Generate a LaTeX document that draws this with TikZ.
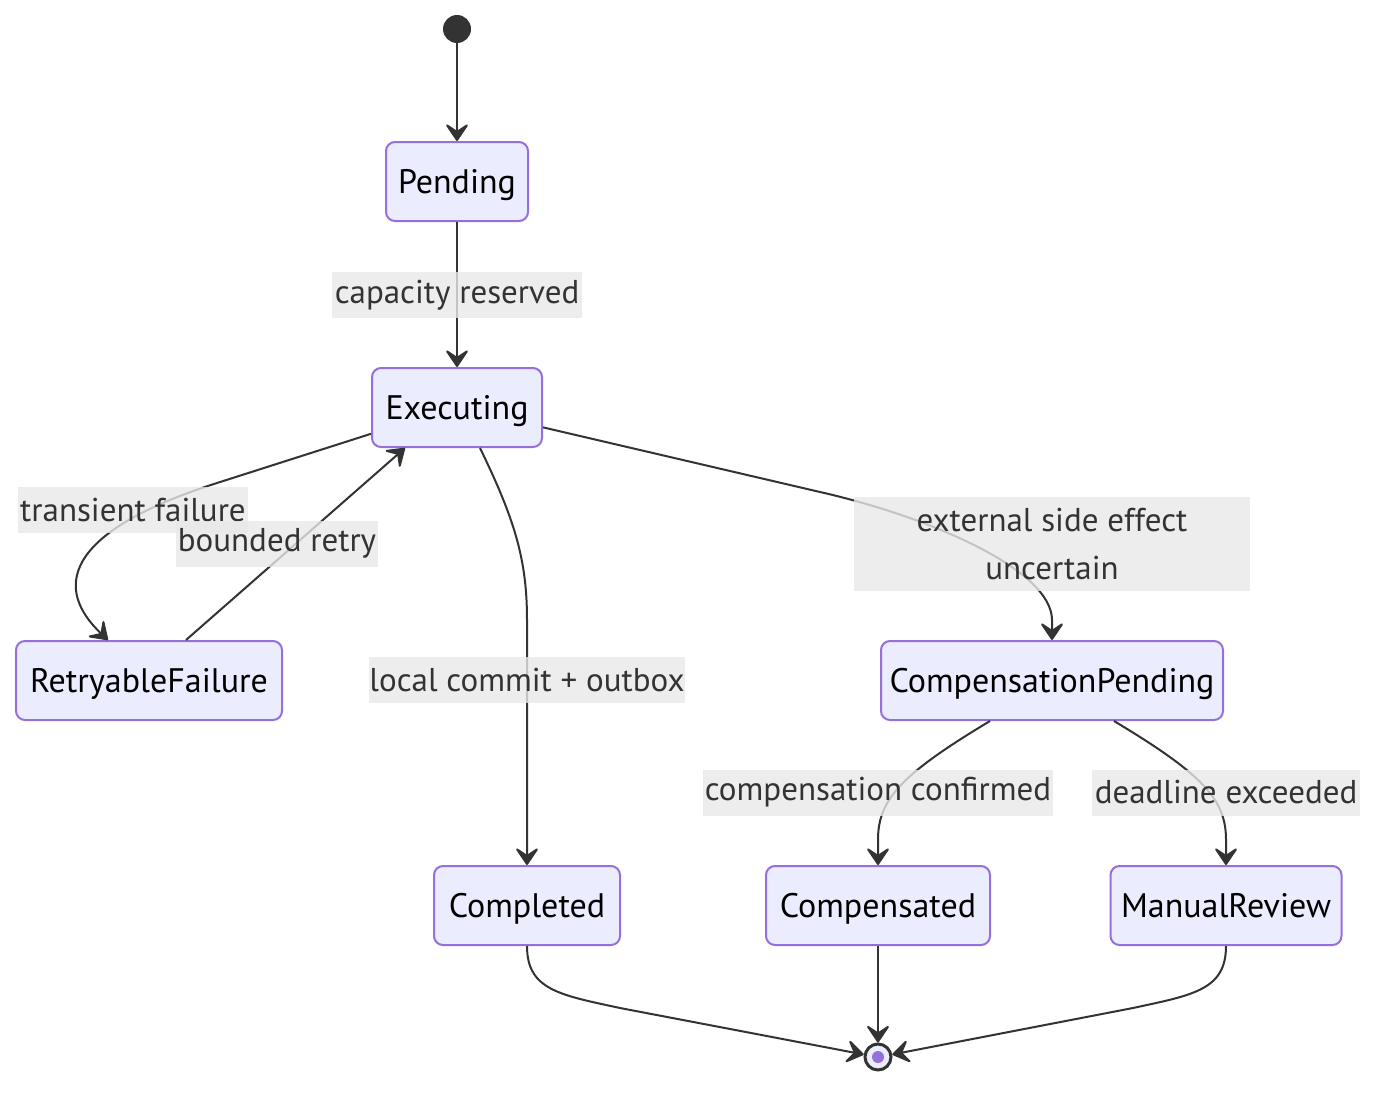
\documentclass[tikz,border=0pt]{standalone}
\usepackage{fontspec}
\setmainfont{PT Sans}
\usetikzlibrary{arrows.meta,calc}
\definecolor{nodefill}{HTML}{ECECFF}
\definecolor{nodeline}{HTML}{9370DB}
\definecolor{edgec}{HTML}{333333}
\definecolor{lblbg}{HTML}{E8E8E8}
\begin{document}
\begin{tikzpicture}[x=1pt,y=-1pt,
 st/.style={draw=nodeline, fill=nodefill, line width=2pt, rounded corners=9pt, minimum height=79pt, inner sep=0pt, font=\fontsize{34}{40}\selectfont, text=black, text height=24pt, text depth=0pt},
 tr/.style={draw=edgec, line width=2pt, -{Stealth[length=20pt,width=27pt,inset=9pt,round]}},
 lbl/.style={fill=lblbg, fill opacity=0.8, text opacity=1, text=edgec, inner sep=0pt, minimum height=46pt, font=\fontsize{33}{40}\selectfont, align=center}
]
\useasboundingbox (0,0) rectangle (1392,1100);
\node[circle, fill=edgec, minimum size=28pt, inner sep=0pt] (start) at (457,29) {};
\node[st, minimum width=142pt] (pe) at (457,181.5) {Pending};
\node[st, minimum width=170pt] (ex) at (457,407.5) {Executing};
\node[st, minimum width=266pt] (rf) at (149,680.5) {RetryableFailure};
\node[st, minimum width=342pt] (cp) at (1052,680.5) {CompensationPending};
\node[st, minimum width=186pt] (cd) at (527,905.5) {Completed};
\node[st, minimum width=224pt] (cs) at (878,905.5) {Compensated};
\node[st, minimum width=231pt] (mr) at (1226,905.5) {ManualReview};
\node[circle, draw=edgec, line width=3pt, fill=nodefill, minimum size=26pt, inner sep=0pt] (end) at (878,1057) {};
\node[circle, fill=nodeline, minimum size=12pt, inner sep=0pt] (endin) at (end) {};

\draw[tr] (start) -- (pe);
\draw[tr] (pe) -- (ex);
\draw[tr] (ex.197) -- (217,483) .. controls (60,533) and (55,590) .. ([xshift=-41pt]rf.north);
\draw[tr] ([xshift=37pt]rf.north) -- ([xshift=-52pt]ex.south);
\draw[tr] ([xshift=23pt]ex.south) .. controls (515,520) and (527,560) .. (527,620) -- (cd.north);
\draw[tr] (ex.-13.6) -- (820,492) .. controls (930,517) and (1052,570) .. (1052,620) -- (cp.north);
\draw[tr] ([xshift=-62pt]cp.south) .. controls (900,775) and (878,800) .. (878,840) -- (cs.north);
\draw[tr] ([xshift=62pt]cp.south) .. controls (1204,775) and (1226,800) .. (1226,840) -- (mr.north);
\draw[tr] (cd.south) .. controls (527,990) and (560,995) .. (620,1008) -- (end.170);
\draw[tr] (cs) -- (end);
\draw[tr] (mr.south) .. controls (1226,990) and (1193,995) .. (1133,1008) -- (end.10);

\node[lbl, minimum width=250pt] (l1) at (457,295) {capacity reserved};
\node[lbl, minimum width=230pt] (l2) at (133,510) {transient failure};
\node[lbl, minimum width=202pt] (l3) at (277,543.5) {bounded retry};
\node[lbl, minimum width=316pt] (l4) at (527,680) {local commit + outbox};
\node[lbl, minimum width=396pt, minimum height=94pt, font=\fontsize{33}{48}\selectfont] (l5) at (1052,544) {external side effect\\uncertain};
\node[lbl, minimum width=350pt] (l6) at (878,792.5) {compensation confirmed};
\node[lbl, minimum width=268pt] (l7) at (1226,792.5) {deadline exceeded};
\end{tikzpicture}
\end{document}
